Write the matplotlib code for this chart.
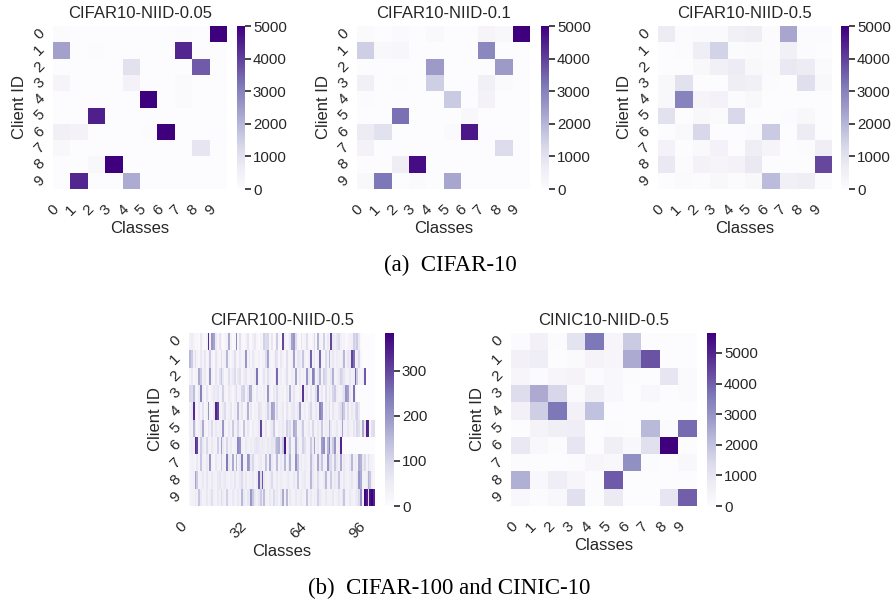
import numpy as np
import matplotlib
matplotlib.use("Agg")
import matplotlib.pyplot as plt
import seaborn as sns

# client x class sample counts
clients = list(range(10))
classes10 = list(range(10))

cifar10_005 = [
    [50, 0, 0, 0, 0, 0, 0, 60, 0, 5000],
    [2400, 0, 50, 0, 0, 0, 0, 4400, 0, 0],
    [0, 0, 0, 0, 1000, 0, 0, 0, 3600, 0],
    [300, 0, 0, 0, 400, 0, 0, 100, 0, 0],
    [0, 0, 0, 0, 0, 5000, 0, 100, 0, 0],
    [0, 0, 4500, 0, 0, 0, 0, 0, 0, 0],
    [500, 400, 0, 0, 0, 50, 5000, 0, 0, 0],
    [200, 0, 0, 0, 0, 0, 0, 0, 900, 0],
    [0, 0, 200, 5000, 0, 0, 0, 0, 0, 0],
    [0, 4400, 0, 0, 2200, 0, 0, 0, 0, 0],
]

cifar10_01 = [
    [100, 30, 100, 0, 150, 0, 0, 300, 200, 5000],
    [1500, 200, 250, 0, 0, 0, 0, 2900, 0, 0],
    [0, 0, 0, 0, 2500, 0, 0, 0, 2500, 0],
    [500, 0, 50, 0, 1500, 0, 0, 500, 100, 0],
    [50, 0, 0, 0, 0, 1600, 0, 400, 0, 0],
    [0, 0, 3300, 0, 0, 0, 200, 0, 0, 0],
    [700, 1000, 0, 0, 0, 100, 4600, 0, 0, 0],
    [400, 0, 0, 0, 0, 0, 0, 0, 1200, 0],
    [0, 0, 600, 4800, 0, 0, 0, 0, 0, 0],
    [200, 3200, 0, 100, 0, 2300, 0, 0, 0, 0],
]

cifar10_05 = [
    [700, 50, 100, 100, 500, 600, 50, 2300, 50, 50],
    [30, 50, 600, 1400, 50, 100, 50, 500, 50, 0],
    [0, 0, 200, 500, 700, 200, 100, 800, 700, 100],
    [200, 1000, 0, 0, 600, 500, 50, 0, 1100, 200],
    [200, 3000, 300, 400, 50, 200, 0, 0, 0, 0],
    [1000, 0, 200, 100, 1300, 0, 0, 50, 200, 0],
    [0, 150, 1300, 0, 0, 100, 1600, 0, 700, 0],
    [400, 0, 150, 400, 0, 600, 300, 0, 50, 600],
    [800, 50, 400, 300, 400, 800, 0, 0, 0, 3900],
    [30, 100, 50, 200, 50, 200, 1900, 500, 600, 50],
]

cinic10_05 = [
    [50, 500, 50, 1100, 3600, 300, 1800, 0, 0, 0],
    [500, 700, 30, 100, 400, 300, 2500, 4200, 0, 0],
    [300, 50, 300, 400, 50, 200, 50, 0, 1000, 100],
    [1300, 2500, 1500, 100, 600, 200, 0, 200, 0, 100],
    [500, 1700, 3600, 500, 2000, 0, 0, 0, 0, 0],
    [0, 400, 600, 700, 0, 50, 0, 2200, 100, 3800],
    [900, 200, 50, 1000, 0, 600, 200, 1200, 5650, 0],
    [50, 30, 30, 50, 300, 200, 3100, 50, 0, 200],
    [2400, 200, 700, 300, 50, 4100, 0, 0, 0, 0],
    [200, 50, 200, 1200, 50, 800, 0, 0, 1000, 4000],
]

# CIFAR-100: one list of 100 class counts per client
c100_r0 = [40, 50, 30, 10, 20, 10, 60, 20, 10, 30, 330, 40, 200, 180, 60, 20, 70, 30, 10, 20,
           40, 170, 30, 10, 20, 220, 20, 80, 20, 10, 30, 70, 20, 10, 40, 60, 20, 10, 30, 20,
           110, 90, 100, 20, 70, 10, 30, 120, 20, 10, 300, 40, 20, 30, 60, 180, 200, 90, 20, 10,
           70, 20, 30, 80, 20, 10, 30, 90, 20, 160, 30, 20, 110, 20, 60, 30, 300, 60, 50, 70,
           90, 40, 20, 30, 10, 20, 30, 40, 110, 90, 120, 60, 10, 0, 0, 0, 0, 0, 0, 0]
c100_r1 = [150, 120, 40, 80, 30, 20, 60, 30, 70, 20, 40, 120, 30, 20, 70, 30, 20, 80, 30, 40,
           150, 30, 20, 40, 80, 30, 20, 60, 30, 40, 200, 30, 70, 20, 60, 30, 20, 40, 20, 30,
           40, 90, 180, 30, 20, 30, 90, 70, 20, 60, 30, 20, 80, 30, 20, 40, 180, 30, 70, 60,
           30, 130, 40, 20, 50, 270, 30, 70, 20, 40, 260, 30, 20, 90, 40, 150, 40, 60, 30, 50,
           40, 30, 60, 150, 30, 70, 60, 300, 250, 30, 40, 90, 20, 0, 0, 0, 0, 0, 0, 0]
c100_r2 = [30, 60, 20, 40, 30, 170, 120, 40, 60, 20, 30, 200, 40, 20, 70, 30, 80, 130, 60, 20,
           30, 80, 40, 60, 90, 30, 60, 80, 20, 50, 70, 30, 20, 50, 40, 60, 250, 30, 20, 40,
           70, 30, 80, 40, 30, 20, 60, 260, 30, 50, 20, 40, 80, 30, 20, 50, 40, 180, 30, 60,
           20, 40, 30, 200, 60, 40, 230, 190, 30, 60, 150, 30, 110, 90, 40, 30, 70, 160, 30, 40,
           60, 110, 90, 70, 40, 30, 60, 40, 50, 260, 120, 30, 20, 40, 280, 0, 0, 0, 0, 0]
c100_r3 = [100, 90, 140, 30, 20, 60, 230, 40, 20, 70, 30, 20, 40, 60, 50, 70, 30, 40, 110, 30,
           20, 60, 40, 20, 50, 90, 30, 40, 100, 110, 30, 70, 170, 160, 40, 20, 60, 30, 40, 20,
           50, 30, 200, 40, 20, 60, 30, 90, 40, 30, 40, 20, 60, 30, 160, 40, 70, 30, 20, 50,
           30, 320, 40, 60, 20, 70, 30, 40, 90, 240, 30, 60, 20, 80, 30, 70, 40, 100, 120, 50,
           30, 40, 60, 80, 200, 180, 60, 30, 250, 40, 0, 0, 0, 0, 0, 0, 0, 0, 0, 0]
c100_r4 = [40, 60, 330, 40, 20, 60, 30, 80, 20, 40, 200, 30, 20, 60, 340, 300, 40, 20, 60, 90,
           30, 40, 70, 20, 50, 30, 150, 40, 70, 20, 40, 160, 30, 60, 20, 40, 30, 80, 60, 40,
           30, 50, 110, 60, 180, 170, 40, 90, 30, 40, 60, 20, 70, 40, 30, 60, 70, 40, 60, 180,
           40, 30, 50, 20, 60, 100, 40, 30, 60, 40, 230, 200, 30, 60, 40, 90, 20, 70, 40, 30,
           60, 90, 160, 120, 40, 80, 30, 60, 40, 90, 110, 60, 0, 0, 0, 0, 0, 0, 0, 0]
c100_r5 = [40, 30, 150, 60, 20, 40, 60, 170, 30, 20, 70, 40, 90, 30, 60, 40, 50, 30, 200, 40,
           20, 60, 30, 120, 40, 30, 100, 40, 20, 130, 30, 60, 40, 20, 50, 30, 40, 60, 300, 40,
           30, 70, 20, 40, 60, 120, 30, 20, 50, 40, 60, 30, 110, 70, 90, 40, 170, 150, 30, 40,
           60, 120, 30, 40, 60, 30, 100, 40, 30, 60, 40, 120, 30, 50, 40, 150, 60, 30, 40, 60,
           30, 50, 180, 40, 30, 60, 40, 30, 70, 40, 100, 80, 30, 170, 60, 340, 330, 20, 80, 90]
c100_r6 = [30, 50, 40, 330, 300, 40, 120, 60, 30, 100, 40, 30, 60, 40, 30, 110, 40, 180, 60, 30,
           100, 40, 60, 30, 40, 50, 220, 200, 40, 30, 60, 40, 30, 50, 40, 60, 70, 60, 50, 60,
           50, 40, 60, 50, 70, 60, 110, 150, 160, 60, 120, 360, 40, 60, 130, 30, 40, 170, 60, 30,
           40, 110, 80, 30, 40, 120, 50, 180, 40, 60, 30, 190, 210, 40, 150, 230, 60, 120, 200, 40,
           50, 340, 0, 0, 0, 0, 0, 0, 0, 0, 0, 0, 0, 0, 0, 0, 0, 0, 0, 0]
c100_r7 = [20, 40, 30, 20, 60, 30, 130, 40, 30, 60, 40, 200, 30, 20, 60, 40, 30, 120, 40, 30,
           240, 60, 40, 170, 30, 150, 40, 60, 230, 40, 30, 200, 180, 60, 100, 40, 30, 50, 60, 30,
           40, 130, 30, 170, 60, 30, 40, 140, 30, 60, 40, 150, 30, 60, 160, 40, 30, 210, 130, 40,
           60, 30, 50, 40, 30, 140, 60, 40, 30, 170, 60, 130, 40, 30, 200, 100, 90, 40, 130, 60,
           40, 170, 30, 60, 40, 30, 60, 150, 40, 60, 40, 170, 160, 60, 90, 30, 80, 40, 30, 20]
c100_r8 = [20, 30, 40, 180, 120, 30, 40, 60, 30, 70, 40, 30, 60, 40, 30, 60, 70, 40, 50, 60,
           40, 30, 50, 40, 70, 30, 40, 60, 90, 40, 60, 30, 50, 40, 60, 30, 50, 270, 90, 280,
           60, 40, 30, 50, 90, 40, 30, 60, 40, 50, 40, 30, 50, 60, 40, 30, 60, 40, 130, 30,
           40, 50, 60, 30, 40, 150, 60, 30, 40, 90, 40, 30, 60, 150, 40, 30, 120, 40, 60, 50,
           130, 40, 30, 60, 40, 30, 50, 70, 40, 30, 60, 200, 170, 40, 30, 50, 160, 130, 40, 20]
c100_r9 = [20, 40, 30, 60, 40, 130, 60, 30, 40, 60, 30, 50, 80, 40, 30, 60, 40, 90, 50, 40,
           110, 40, 30, 60, 40, 30, 60, 40, 150, 60, 40, 70, 60, 200, 130, 60, 40, 70, 120, 60,
           140, 40, 30, 60, 40, 90, 40, 60, 30, 70, 170, 40, 150, 30, 60, 40, 30, 60, 40, 50,
           60, 40, 30, 130, 40, 60, 30, 50, 40, 110, 60, 40, 30, 60, 40, 30, 40, 60, 30, 40,
           60, 40, 70, 130, 40, 30, 60, 40, 30, 50, 60, 90, 200, 40, 375, 350, 90, 360, 384, 340]
cifar100_05 = [c100_r0, c100_r1, c100_r2, c100_r3, c100_r4,
               c100_r5, c100_r6, c100_r7, c100_r8, c100_r9]

cbar_ticks_10 = [0, 1000, 2000, 3000, 4000, 5000]
cbar_ticks_100 = [0, 100, 200, 300]

sns.set_theme(style="white")
plt.rcParams["font.family"] = ["Liberation Sans", "DejaVu Sans"]
txt = "#262626"

fig = plt.figure(figsize=(8.93, 6.06), dpi=100)
W, H = 893.0, 606.0


def box(x0, y0, x1, y1):
    return [x0 / W, 1 - y1 / H, (x1 - x0) / W, (y1 - y0) / H]


def draw(data, title, hm, cb, ticks, vmax=None, xstep=1):
    ax = fig.add_axes(box(*hm))
    cax = fig.add_axes(box(*cb))
    arr = np.array(data)
    sns.heatmap(arr, ax=ax, cbar_ax=cax, cmap="Purples", vmin=0, vmax=vmax,
                xticklabels=xstep, yticklabels=clients,
                cbar_kws={"ticks": ticks})
    ax.set_title(title, fontsize=12, color=txt, pad=6)
    ax.set_xlabel("Classes", fontsize=12, color=txt, labelpad=2)
    ax.set_ylabel("Client ID", fontsize=12, color=txt, labelpad=3)
    ax.tick_params(axis="y", left=False, right=False, length=0, pad=4)
    plt.setp(ax.get_xticklabels(), rotation=45, ha="right", fontsize=11, color=txt)
    plt.setp(ax.get_yticklabels(), rotation=45, ha="right", va="center", fontsize=11, color=txt)
    cax.tick_params(axis="y", which="major", left=False, right=True, length=4.2, width=1.2,
                    color=txt, labelsize=10.8, labelcolor=txt, pad=1.5)
    return ax


draw(cifar10_005, "CIFAR10-NIID-0.05", (53, 26, 227, 189), (237, 26, 245, 189),
     cbar_ticks_10, vmax=5000)
draw(cifar10_01, "CIFAR10-NIID-0.1", (357, 26, 530, 189), (541, 26, 549, 189),
     cbar_ticks_10, vmax=5000)
draw(cifar10_05, "CIFAR10-NIID-0.5", (658, 26, 832, 189), (841, 26, 849, 189),
     cbar_ticks_10, vmax=5000)
draw(cifar100_05, "CIFAR100-NIID-0.5", (189, 333, 375, 506), (385, 333, 394, 506),
     cbar_ticks_100, xstep=32)
draw(cinic10_05, "CINIC10-NIID-0.5", (511, 333, 697, 506), (707, 333, 716, 506), cbar_ticks_10)

fig.text(450 / W, 1 - 265 / H, "(a)  CIFAR-10", ha="center", va="center",
         fontsize=16.5, family="Liberation Serif", color="black")
fig.text(449 / W, 1 - 588 / H, "(b)  CIFAR-100 and CINIC-10", ha="center", va="center",
         fontsize=16.5, family="Liberation Serif", color="black")

fig.savefig("out.png", dpi=100)
